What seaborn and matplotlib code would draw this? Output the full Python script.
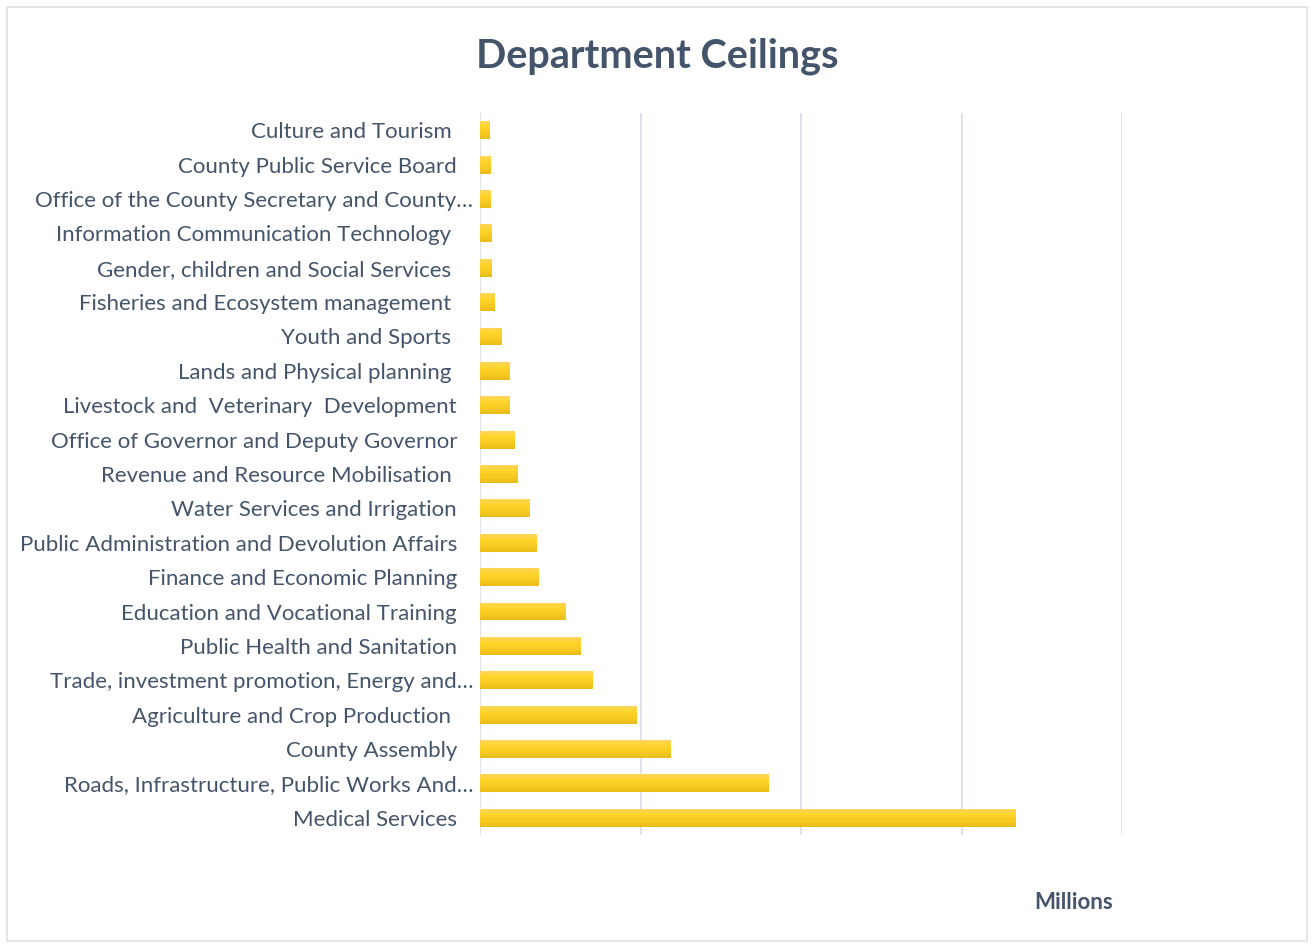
import numpy as np
import pandas as pd
import matplotlib
matplotlib.use("Agg")
import matplotlib.pyplot as plt
import matplotlib.transforms as mtransforms
from matplotlib.patches import Rectangle
from matplotlib.colors import LinearSegmentedColormap
import seaborn as sns

departments = [
    "Culture and Tourism ",
    "County Public Service Board",
    "Office of the County Secretary and County\u2026",
    "Information Communication Technology ",
    "Gender, children and Social Services ",
    "Fisheries and Ecosystem management ",
    "Youth and Sports ",
    "Lands and Physical planning ",
    "Livestock and  Veterinary  Development",
    "Office of Governor and Deputy Governor",
    "Revenue and Resource Mobilisation ",
    "Water Services and Irrigation",
    "Public Administration and Devolution Affairs",
    "Finance and Economic Planning",
    "Education and Vocational Training",
    "Public Health and Sanitation",
    "Trade, investment promotion, Energy and\u2026",
    "Agriculture and Crop Production ",
    "County Assembly",
    "Roads, Infrastructure, Public Works And\u2026",
    "Medical Services",
]
ceilings = [31, 34, 34, 37, 37, 44, 68, 93, 93, 109, 118, 153, 177, 181,
            265, 314, 352, 489, 595, 900, 1669]
x_ticks = [0, 500, 1000, 1500, 2000]

df = pd.DataFrame({"Department": departments, "Ceiling": ceilings})

sns.set_theme(style="white")
plt.rcParams["font.family"] = ["Lato", "DejaVu Sans"]

text_color = "#44546A"
grid_color = "#DDE1EA"

fig = plt.figure(figsize=(13.14, 9.47), dpi=100)
ax = fig.add_axes([480 / 1314, 1 - 835 / 947, 642 / 1314, 722 / 947])

sns.barplot(data=df, y="Department", x="Ceiling", orient="h", ax=ax,
            width=0.52, color="#FDD22E", edgecolor="none", saturation=1)

# vertical gradient fill for each bar
grad = np.linspace(0, 1, 64).reshape(-1, 1)
cmap = LinearSegmentedColormap.from_list(
    "gold", ["#FFD65C", "#FFD42A", "#F7CB22", "#E8BC17"])
for p in ax.patches:
    x0, y0 = p.get_x(), p.get_y()
    w, h = p.get_width(), p.get_height()
    im = ax.imshow(grad, cmap=cmap, aspect="auto", interpolation="bicubic",
                   extent=(x0, x0 + w, y0 + h, y0), zorder=3, origin="upper")
    im.set_clip_path(p)
    p.set_facecolor("none")

ax.set_xlim(0, 2000)
ax.set_ylim(len(departments) - 0.5, -0.5)
ax.set_xticks(x_ticks)
ax.set_xticklabels([])
ax.tick_params(axis="x", length=0)
ax.tick_params(axis="y", length=0, pad=16.5, labelsize=16, labelcolor=text_color)
ax.xaxis.grid(True, color=grid_color, linewidth=1.4)
ax.set_axisbelow(True)
for s in ax.spines.values():
    s.set_visible(False)
ax.set_xlabel("")
ax.set_ylabel("")

# truncated labels sit closer to the axis
for lab in ax.get_yticklabels():
    if lab.get_text().endswith("\u2026"):
        lab.set_transform(lab.get_transform() +
                          mtransforms.ScaledTranslation(16 / 100, 0, fig.dpi_scale_trans))

fig.text(657 / 1314, 1 - 56 / 947, "Department Ceilings", ha="center", va="center",
         fontsize=28.5, fontweight="bold", color=text_color)
fig.text(1074 / 1314, 1 - 902 / 947, "Millions", ha="center", va="center",
         fontsize=16, fontweight="bold", color=text_color)

fig.patches.append(Rectangle((7 / 1314, 6 / 947), 1300 / 1314, 934 / 947,
                             transform=fig.transFigure, fill=False,
                             edgecolor="#E0E0E0", linewidth=1.2))

fig.savefig("out.png", dpi=100)
